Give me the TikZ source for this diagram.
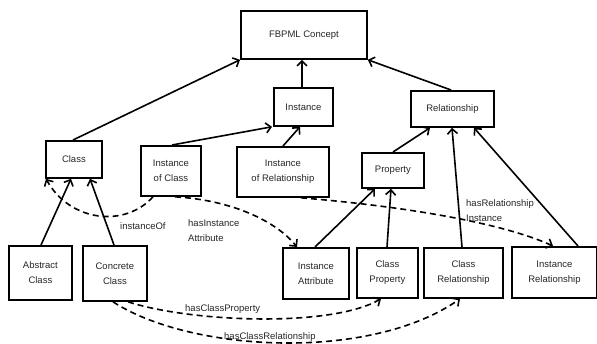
\documentclass[tikz,border=0pt]{standalone}
\usepackage{fontspec}
\setmainfont{Liberation Sans}
\usetikzlibrary{arrows.meta,calc}

\begin{document}
\begin{tikzpicture}[x=1pt,y=-1pt,
  box/.style={draw=black, line width=1.8pt, rectangle, anchor=north west,
    inner sep=0pt, align=center, text=black!85,
    font=\fontsize{9.5}{15}\selectfont},
  isa/.style={draw=black, line width=1.6pt,
    -{Straight Barb[length=5pt,width=10pt,line width=1.6pt]}},
  rel/.style={isa, dash pattern=on 6pt off 4pt},
  lbl/.style={anchor=west, inner sep=0pt, align=left, text=black!85,
    font=\fontsize{9.5}{15}\selectfont}]
  \useasboundingbox (0,0) rectangle (597,344);

  % concept boxes
  \node[box, minimum width=126pt, minimum height=48pt] (fb)   at (240,10)  {FBPML Concept};
  \node[box, minimum width=59pt,  minimum height=38pt] (inst) at (273,87)  {Instance};
  \node[box, minimum width=83pt,  minimum height=36pt] (rel)  at (410,90)  {Relationship};
  \node[box, minimum width=56pt,  minimum height=37pt] (cls)  at (45,140)  {Class};
  \node[box, minimum width=60pt,  minimum height=50pt] (ioc)  at (140,145) {Instance\\of Class};
  \node[box, minimum width=92pt,  minimum height=50pt] (ior)  at (236,146) {Instance\\of Relationship};
  \node[box, minimum width=62pt,  minimum height=35pt] (prop) at (361,152) {Property};
  \node[box, minimum width=63pt,  minimum height=54pt] (abs)  at (8,245)   {Abstract\\Class};
  \node[box, minimum width=64pt,  minimum height=55pt] (con)  at (82,245)  {Concrete\\Class};
  \node[box, minimum width=66pt,  minimum height=51pt] (ia)   at (282,247) {Instance\\Attribute};
  \node[box, minimum width=61pt,  minimum height=50pt] (cp)   at (356,247) {Class\\Property};
  \node[box, minimum width=79pt,  minimum height=50pt] (cr)   at (423,247) {Class\\Relationship};
  \node[box, minimum width=85pt,  minimum height=51pt] (ir)   at (511,246) {Instance\\Relationship};

  % generalisation arrows
  \draw[isa] ([xshift=28pt]cls.north west) -- (fb.south west);
  \draw[isa] ([xshift=32pt]ioc.north west) -- ([xshift=-1pt]inst.south west);
  \draw[isa] ([xshift=47pt]ior.north west) -- ([xshift=27pt]inst.south west);
  \draw[isa] ([xshift=29pt]inst.north west) -- ([xshift=62pt]fb.south west);
  \draw[isa] ([xshift=41pt]rel.north west) -- (fb.south east);
  \draw[isa] ([xshift=32pt]prop.north west) -- ([xshift=20pt]rel.south west);
  \draw[isa] ([xshift=39pt]cr.north west) -- ([xshift=42pt]rel.south west);
  \draw[isa] ([xshift=67pt]ir.north west) -- ([xshift=64pt]rel.south west);
  \draw[isa] ([xshift=33pt]ia.north west) -- ([xshift=14pt]prop.south west);
  \draw[isa] ([xshift=31pt]cp.north west) -- ([xshift=30pt]prop.south west);
  \draw[isa] ([xshift=33pt]abs.north west) -- ([xshift=26pt]cls.south west);
  \draw[isa] ([xshift=32pt]con.north west) -- ([xshift=45pt]cls.south west);

  % named relations
  \draw[rel] ([xshift=13pt]ioc.south west) .. controls (125,228) and (70,222) .. ([xshift=1pt]cls.south west);
  \draw[rel] ([xshift=35pt]ioc.south west) .. controls (230,200) and (275,220) .. ([xshift=15pt]ia.north west);
  \draw[rel] ([xshift=18pt]ior.south) .. controls (400,206) and (500,222) .. ([xshift=42pt]ir.north west);
  \draw[rel] ([xshift=46pt]con.south west) .. controls (190,322) and (330,328) .. ([xshift=25pt]cp.south west);
  \draw[rel] ([xshift=31pt]con.south west) .. controls (190,352) and (370,362) .. ([xshift=37pt]cr.south west);

  % relation labels
  \node[lbl] (l1) at (120,226) {instanceOf};
  \node[lbl] (l2) at (188,230.5) {hasInstance\\Attribute};
  \node[lbl] (l3) at (466,210.5) {hasRelationship\\Instance};
  \node[lbl] (l4) at (185,309) {hasClassProperty};
  \node[lbl] (l5) at (224,337) {hasClassRelationship};
\end{tikzpicture}
\end{document}
